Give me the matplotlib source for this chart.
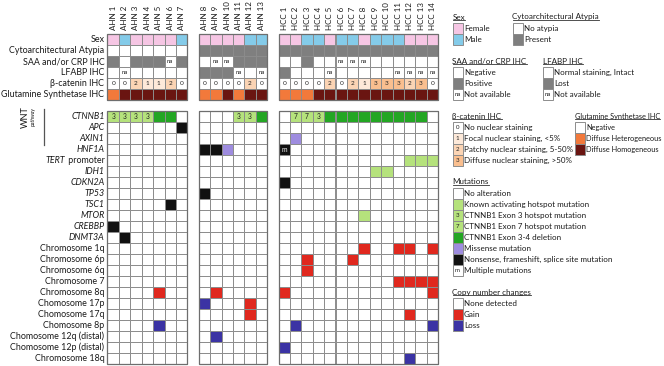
import matplotlib
matplotlib.use('Agg')
import matplotlib.pyplot as plt
from matplotlib.patches import Rectangle
from matplotlib.lines import Line2D

plt.rcParams['font.family'] = ['Lato', 'DejaVu Sans']

# ---------------- data ----------------
group1 = ['AHN 1', 'AHN 2', 'AHN 3', 'AHN 4', 'AHN 5', 'AHN 6', 'AHN 7']
group2 = ['AHN 8', 'AHN 9', 'AHN 10', 'AHN 11', 'AHN 12', 'AHN 13']
group3 = ['HCC 1', 'HCC 2', 'HCC 3', 'HCC 4', 'HCC 5', 'HCC 6', 'HCC 7',
          'HCC 8', 'HCC 9', 'HCC 10', 'HCC 11', 'HCC 12', 'HCC 13', 'HCC 14']

# clinical / IHC rows (one value per sample, group1 | group2 | group3)
sex = ['F', 'M', 'F', 'F', 'F', 'F', 'M',
       'F', 'F', 'F', 'F', 'M', 'M',
       'F', 'F', 'M', 'M', 'F', 'M', 'M', 'F', 'M', 'M', 'M', 'F', 'F', 'F']
atypia = ['no'] * 7 + ['yes'] * 6 + ['yes'] * 14
saa = ['pos', 'neg', 'pos', 'pos', 'pos', 'na', 'pos',
       'neg', 'na', 'na', 'pos', 'pos', 'pos',
       'neg', 'neg', 'pos', 'neg', 'neg', 'na', 'na', 'na', 'neg', 'neg', 'neg', 'neg', 'neg', 'neg']
lfabp = ['int', 'na', 'int', 'int', 'int', 'int', 'int',
         'lost', 'lost', 'lost', 'na', 'int', 'na',
         'lost', 'int', 'int', 'int', 'na', 'int', 'int', 'int', 'int', 'int', 'na', 'na', 'na', 'na']
bcat = [0, 0, 2, 1, 1, 2, 0,
        0, 0, 0, 0, 2, 0,
        0, 0, 0, 0, 2, 0, 2, 1, 3, 3, 3, 2, 3, 0]
gs = ['het', 'hom', 'hom', 'hom', 'hom', 'hom', 'hom',
      'het', 'het', 'hom', 'het', 'hom', 'hom',
      'het', 'het', 'het', 'hom', 'hom', 'hom', 'hom', 'hom', 'hom', 'hom', 'hom', 'hom', 'hom', 'hom']

# mutations: '.' none, 'K' hotspot, '3'/'7' CTNNB1 exon, 'D' exon 3-4 deletion,
# 'S' missense, 'N' nonsense/frameshift/splice, 'm' multiple
mut_genes = ['CTNNB1', 'APC', 'AXIN1', 'HNF1A', 'TERT', 'IDH1', 'CDKN2A',
             'TP53', 'TSC1', 'MTOR', 'CREBBP', 'DNMT3A']
mut_calls = [
    '3333DD.' + '...33D' + '.773DDDDDDDDD.',
    '......N' + '......' + '..............',
    '.......' + '......' + '.S............',
    '.......' + 'NNS...' + 'm.............',
    '.......' + '......' + '...........KKK',
    '.......' + '......' + '........KK....',
    '.......' + '......' + 'N.............',
    '.......' + 'N.....' + '..............',
    '.....N.' + '......' + '..............',
    '.......' + '......' + '.......K......',
    'N......' + '......' + '..............',
    '.N.....' + '......' + '..............',
]

# copy number: '.' none, '+' gain, '-' loss
cnv_labels = ['Chromosome 1q', 'Chromosome 6p', 'Chromosome 6q', 'Chromosome 7',
              'Chromosome 8q', 'Chomosome 17p', 'Chomosome 17q', 'Chomosome 8p',
              'Chomosome 12q (distal)', 'Chomosome 12p (distal)', 'Chromosome 18q']
cnv_calls = [
    '.......' + '......' + '.......+..++.+',
    '.......' + '......' + '..+...+.......',
    '.......' + '......' + '..+...........',
    '.......' + '......' + '..........++++',
    '....+..' + '.+....' + '+............+',
    '.......' + '-...+.' + '..............',
    '.......' + '....+.' + '...........+..',
    '....-..' + '......' + '.-...........-',
    '.......' + '.-....' + '..............',
    '.......' + '......' + '-.............',
    '.......' + '......' + '...........-..',
]

top_labels = ['Sex', 'Cytoarchitectural Atypia', 'SAA and/or CRP IHC', 'LFABP IHC',
              'β-catenin IHC', 'Glutamine Synthetase IHC']

legend_sex = [('F', 'Female'), ('M', 'Male')]
legend_atypia = [('no', 'No atypia'), ('yes', 'Present')]
legend_saa = [('neg', 'Negative', None), ('pos', 'Positive', None), ('na', 'Not available', 'na')]
legend_lfabp = [('int', 'Normal staining, Intact', None), ('lost', 'Lost', None), ('na', 'Not available', 'na')]
legend_bcat = [(0, 'No nuclear staining'), (1, 'Focal nuclear staining, <5%'),
               (2, 'Patchy nuclear staining, 5-50%'), (3, 'Diffuse nuclear staining, >50%')]
legend_gs = [('neg', 'Negative'), ('het', 'Diffuse Heterogeneous'), ('hom', 'Diffuse Homogeneous')]
legend_mut = [('.', 'No alteration', None), ('K', 'Known activating hotspot mutation', None),
              ('3', 'CTNNB1 Exon 3 hotspot mutation', '3'),
              ('7', 'CTNNB1 Exon 7 hotspot mutation', '7'),
              ('D', 'CTNNB1 Exon 3-4 deletion', None), ('S', 'Missense mutation', None),
              ('N', 'Nonsense, frameshift, splice site mutation', None),
              ('.', 'Multiple mutations', 'm')]
legend_cnv = [('.', 'None detected'), ('+', 'Gain'), ('-', 'Loss')]

# ---------------- styling ----------------
COL = {
    'F': '#F6C6E4', 'M': '#84CBE9',
    'no': 'white', 'yes': '#7F7F7F',
    'neg': 'white', 'pos': '#7F7F7F', 'na': 'white',
    'int': 'white', 'lost': '#7F7F7F',
    0: 'white', 1: '#FDE9D9', 2: '#FBD4B4', 3: '#FABF8F',
    'het': '#F2793B', 'hom': '#6A1511',
    '.': 'white', 'K': '#B5E27C', '3': '#B5E27C', '7': '#B5E27C', 'D': '#23A623',
    'S': '#9E8CDF', 'N': '#111111', 'm': '#111111',
    '+': '#E0281E', '-': '#3B33A4',
}
EDGE = '#8C8C8C'
FS = 6.4
FS_LEG = 5.75
FS_GS = 5.3
FS_HEAD = 5.8
TXT = '#1a1a1a'

W, H = 664, 366
fig = plt.figure(figsize=(W / 100, H / 100), dpi=100)
# grid geometry (pixels): 29 columns from x=107.5 to 438.1, 30 rows from y=33.5 to 363.5
x0p, x1p, y0p, y1p = 107.5, 438.1, 33.5, 363.5
ax = fig.add_axes([x0p / W, 1 - y1p / H, (x1p - x0p) / W, (y1p - y0p) / H])
ax.set_xlim(0, 29)
ax.set_ylim(30, 0)
ax.axis('off')
cw = (x1p - x0p) / 29.0
rh = (y1p - y0p) / 30.0


def dx(px):
    return (px - x0p) / cw


def dy(py):
    return (py - y0p) / rh


ncols = [len(group1), len(group2), len(group3)]
col_x = list(range(0, 7)) + list(range(8, 14)) + list(range(15, 29))
samples = group1 + group2 + group3


def cell(x, y, fc, txt=None, tc='#222222', fs=4.6):
    ax.add_patch(Rectangle((x, y), 1, 1, facecolor=fc, edgecolor=EDGE, lw=0.7, clip_on=False))
    if txt is not None:
        ax.text(x + 0.5, y + 0.53, txt, ha='center', va='center', fontsize=fs, color=tc, clip_on=False)


# top block
for i, x in enumerate(col_x):
    cell(x, 0, COL[sex[i]])
    cell(x, 1, COL[atypia[i]])
    cell(x, 2, COL[saa[i]], 'na' if saa[i] == 'na' else None, fs=4.3)
    cell(x, 3, COL[lfabp[i]], 'na' if lfabp[i] == 'na' else None, fs=4.3)
    cell(x, 4, COL[bcat[i]], str(bcat[i]))
    cell(x, 5, COL[gs[i]])

# mutation block
for r, calls in enumerate(mut_calls):
    for i, x in enumerate(col_x):
        c = calls[i]
        txt = None
        tc = '#222222'
        if c in '37':
            txt = c
        elif c == 'm':
            txt = 'm'
            tc = 'white'
        cell(x, 7 + r, COL[c], txt, tc=tc, fs=4.8)

for r, calls in enumerate(cnv_calls):
    for i, x in enumerate(col_x):
        cell(x, 7 + len(mut_calls) + r, COL[calls[i]])

# group outlines
for gx, n in zip([0, 8, 15], ncols):
    for (yy, hh) in [(0, 6), (7, 23)]:
        ax.add_patch(Rectangle((gx, yy), n, hh, fill=False, edgecolor='#6E6E6E', lw=0.9, clip_on=False))

# column headers
for i, x in enumerate(col_x):
    ax.text(x + 0.5, dy(30.5), samples[i], rotation=90, ha='center', va='bottom',
            fontsize=FS_HEAD, color=TXT, clip_on=False)

# row labels
lx = dx(104.5)
for r, lab in enumerate(top_labels):
    ax.text(lx, r + 0.55, lab, ha='right', va='center', fontsize=FS, color=TXT, clip_on=False)

fig.canvas.draw()
renderer = fig.canvas.get_renderer()
for r, g in enumerate(mut_genes):
    y = 7 + r + 0.55
    if g == 'TERT':
        t = ax.text(lx, y, ' promoter', ha='right', va='center', fontsize=FS, color=TXT, clip_on=False)
        bb = t.get_window_extent(renderer)
        xl = ax.transData.inverted().transform((bb.x0, bb.y0))[0]
        ax.text(xl, y, 'TERT', ha='right', va='center', fontsize=FS, style='italic', color=TXT, clip_on=False)
    else:
        ax.text(lx, y, g, ha='right', va='center', fontsize=FS, style='italic', color=TXT, clip_on=False)
for r, lab in enumerate(cnv_labels):
    ax.text(lx, 7 + len(mut_calls) + r + 0.55, lab, ha='right', va='center', fontsize=FS,
            color=TXT, clip_on=False)

# WNT pathway bracket
ax.text(dx(25.5), dy(117), 'WNT', rotation=90, ha='center', va='center', fontsize=6.6, color=TXT, clip_on=False)
ax.text(dx(33), dy(117), 'pathway', rotation=90, ha='center', va='center', fontsize=3.8,
        style='italic', color=TXT, clip_on=False)
ax.add_line(Line2D([dx(44), dx(44)], [dy(109), dy(145)], color='#555555', lw=0.9, clip_on=False))

# ---------------- legends ----------------
SW = 10.0 / cw  # swatch width in data units


def title_text(xp, row, s, fs=FS_LEG):
    x = dx(xp)
    t = ax.text(x, row + 0.5, s, ha='left', va='center', fontsize=fs, color=TXT, clip_on=False)
    bb = t.get_window_extent(renderer)
    inv = ax.transData.inverted()
    (xa, ya) = inv.transform((bb.x0, bb.y0 + 0.5))
    (xb, _) = inv.transform((bb.x1, bb.y0))
    ax.add_line(Line2D([xa, xb], [ya, ya], color='#333333', lw=0.6, clip_on=False))


def item(xp, row, fc, label, txt=None, tc='#222222', fs=FS_LEG):
    x = dx(xp)
    ax.add_patch(Rectangle((x, row), SW, 1, facecolor=fc, edgecolor=EDGE, lw=0.7, clip_on=False))
    if txt is not None:
        ax.text(x + SW / 2, row + 0.53, txt, ha='center', va='center', fontsize=4.4, color=tc, clip_on=False)
    ax.text(x + SW + 0.12, row + 0.55, label, ha='left', va='center', fontsize=fs, color=TXT, clip_on=False)


title_text(452.5, -2, 'Sex')
for k, (c, l) in enumerate(legend_sex):
    item(452.5, -1 + k, COL[c], l)
title_text(512.5, -2, 'Cytoarchitectural Atypia')
for k, (c, l) in enumerate(legend_atypia):
    item(512.5, -1 + k, COL[c], l)

title_text(452.5, 2, 'SAA and/or CRP IHC')
for k, (c, l, t) in enumerate(legend_saa):
    item(452.5, 3 + k, COL[c], l, t)
title_text(543.0, 2, 'LFABP IHC')
for k, (c, l, t) in enumerate(legend_lfabp):
    item(543.0, 3 + k, COL[c], l, t)

title_text(452.5, 7, 'β-catenin IHC')
for k, (c, l) in enumerate(legend_bcat):
    item(452.5, 8 + k, COL[c], l, str(c))
title_text(575.0, 7, 'Glutamine Synthetase IHC', fs=FS_GS)
for k, (c, l) in enumerate(legend_gs):
    item(575.0, 8 + k, COL[c], l, fs=FS_GS)

title_text(452.5, 13, 'Mutations')
for k, (c, l, t) in enumerate(legend_mut):
    item(452.5, 14 + k, COL[c], l, t)

title_text(452.5, 23, 'Copy number changes')
for k, (c, l) in enumerate(legend_cnv):
    item(452.5, 24 + k, COL[c], l)

fig.savefig('out.png', dpi=100)
